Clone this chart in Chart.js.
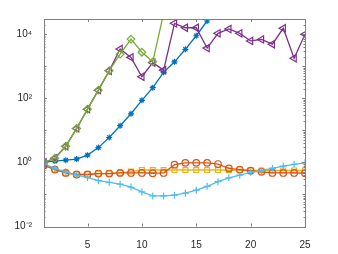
<!DOCTYPE html>
<html><head><meta charset="utf-8">
<script src="https://cdn.jsdelivr.net/npm/chart.js@4.4.1/dist/chart.umd.min.js"></script>
<style>html,body{margin:0;padding:0;background:#fff}#c{display:block}</style>
</head><body>
<canvas id="c" width="338" height="254"></canvas>
<script>
const xs = [1,2,3,4,5,6,7,8,9,10,11,12,13,14,15,16,17,18,19,20,21,22,23,24,25];
const blueVals   = [1.02,1.1,1.18,1.27,1.69,2.9,6.0,14,33,87,215,650,1380,3400,9000,26000];
const orangeVals = [0.82,0.6,0.47,0.42,0.42,0.45,0.45,0.47,0.47,0.47,0.46,0.47,0.85,0.97,0.97,0.97,0.89,0.65,0.6,0.55,0.51,0.47,0.47,0.47,0.46];
const yellowVals = [0.82,0.6,0.47,0.42,0.42,0.45,0.45,0.47,0.52,0.58,0.58,0.58,0.58,0.58,0.58,0.58,0.58,0.57,0.57,0.56,0.56,0.56,0.56,0.56,0.56];
const purpleVals = [1.0,1.35,3.2,11.5,46,180,730,3470,1900,473,1300,760,22000,16000,16000,3700,10700,14600,10700,6200,6900,4900,15400,1780,10000];
const greenVals  = [1.0,1.35,3.2,11.5,46,180,730,2400,7100,2750,1380,45000];
const lightBlueVals = [0.9,0.65,0.51,0.40,0.34,0.27,0.24,0.21,0.17,0.12,0.09,0.09,0.095,0.11,0.136,0.18,0.25,0.33,0.40,0.49,0.55,0.65,0.77,0.87,0.97];
const xTicks = [5,10,15,20,25];
const yTicks = [0.01,1,100,10000];
const yTickLabels = ['10\u207B\u00B2','10\u2070','10\u00B2','10\u2074'];

const axisColor = '#808080';
const textColor = '#262626';
function pts(v){ return v.map((y,i)=>({x:xs[i], y})); }
function ds(vals,color,style,r,rot){
  return {data:pts(vals),borderColor:color,backgroundColor:'rgba(0,0,0,0)',borderWidth:1.3,
    pointStyle:style,pointRadius:r,pointBorderWidth:1.2,pointBorderColor:color,pointBackgroundColor:style==='star'?color:'rgba(0,0,0,0)',
    pointRotation:rot||0,tension:0,fill:false};
}
const boxPlugin = {
  id:'box',
  afterDraw(chart){
    const {ctx, chartArea:{left,right,top,bottom}, scales:{x,y}} = chart;
    ctx.save();
    ctx.strokeStyle = axisColor; ctx.lineWidth = 1;
    ctx.strokeRect(Math.round(left)+0.5, Math.round(top)+0.5, Math.round(right-left), Math.round(bottom-top));
    ctx.beginPath();
    for(const v of xTicks){
      const px = Math.round(x.getPixelForValue(v))+0.5;
      ctx.moveTo(px,bottom); ctx.lineTo(px,bottom-3);
      ctx.moveTo(px,top); ctx.lineTo(px,top+3);
    }
    for(let e=-2;e<=4;e++){
      for(let m=1;m<=9;m++){
        const v = m*Math.pow(10,e);
        if(v<y.min||v>y.max) continue;
        const len = (m===1 && e%2===0)?3:(m===1?2.5:1.5);
        const py = Math.round(y.getPixelForValue(v))+0.5;
        ctx.moveTo(left,py); ctx.lineTo(left+len,py);
        ctx.moveTo(right,py); ctx.lineTo(right-len,py);
      }
    }
    ctx.stroke();
    ctx.restore();
  }
};
new Chart(document.getElementById('c'),{
  type:'line',
  data:{datasets:[
    ds(lightBlueVals,'#4DBEEE','cross',3.5),
    ds(greenVals,'#77AC30','rectRot',3.8),
    ds(purpleVals,'#7E2F8E','triangle',4.2,-90),
    ds(orangeVals,'#D95319','circle',3.3),
    ds(yellowVals,'#EDB120','rect',3.5),
    ds(blueVals,'#0072BD','star',3),
  ]},
  options:{
    responsive:false,animation:false,
    layout:{padding:{left:0,right:33,top:19,bottom:0}},
    plugins:{legend:{display:false},tooltip:{enabled:false}},
    scales:{
      x:{type:'linear',min:1,max:25,
        afterBuildTicks(s){ s.ticks = xTicks.map(v=>({value:v})); },
        afterFit(s){ s.height = 27.5; },
        grid:{display:false},border:{display:false},
        ticks:{color:textColor,font:{family:'Helvetica, Arial, "Liberation Sans"',size:10},padding:5,maxRotation:0}},
      y:{type:'logarithmic',min:0.01,max:30000,
        afterBuildTicks(s){ s.ticks = yTicks.map(v=>({value:v})); },
        afterFit(s){ s.width = 44; },
        grid:{display:false},border:{display:false},
        ticks:{color:textColor,font:{family:'Helvetica, Arial, "Liberation Sans"',size:10},padding:4,
          callback(v){ const i = yTicks.indexOf(v); return i>=0?yTickLabels[i]:''; }}}
    }
  },
  plugins:[boxPlugin]
});
</script>
</body></html>
